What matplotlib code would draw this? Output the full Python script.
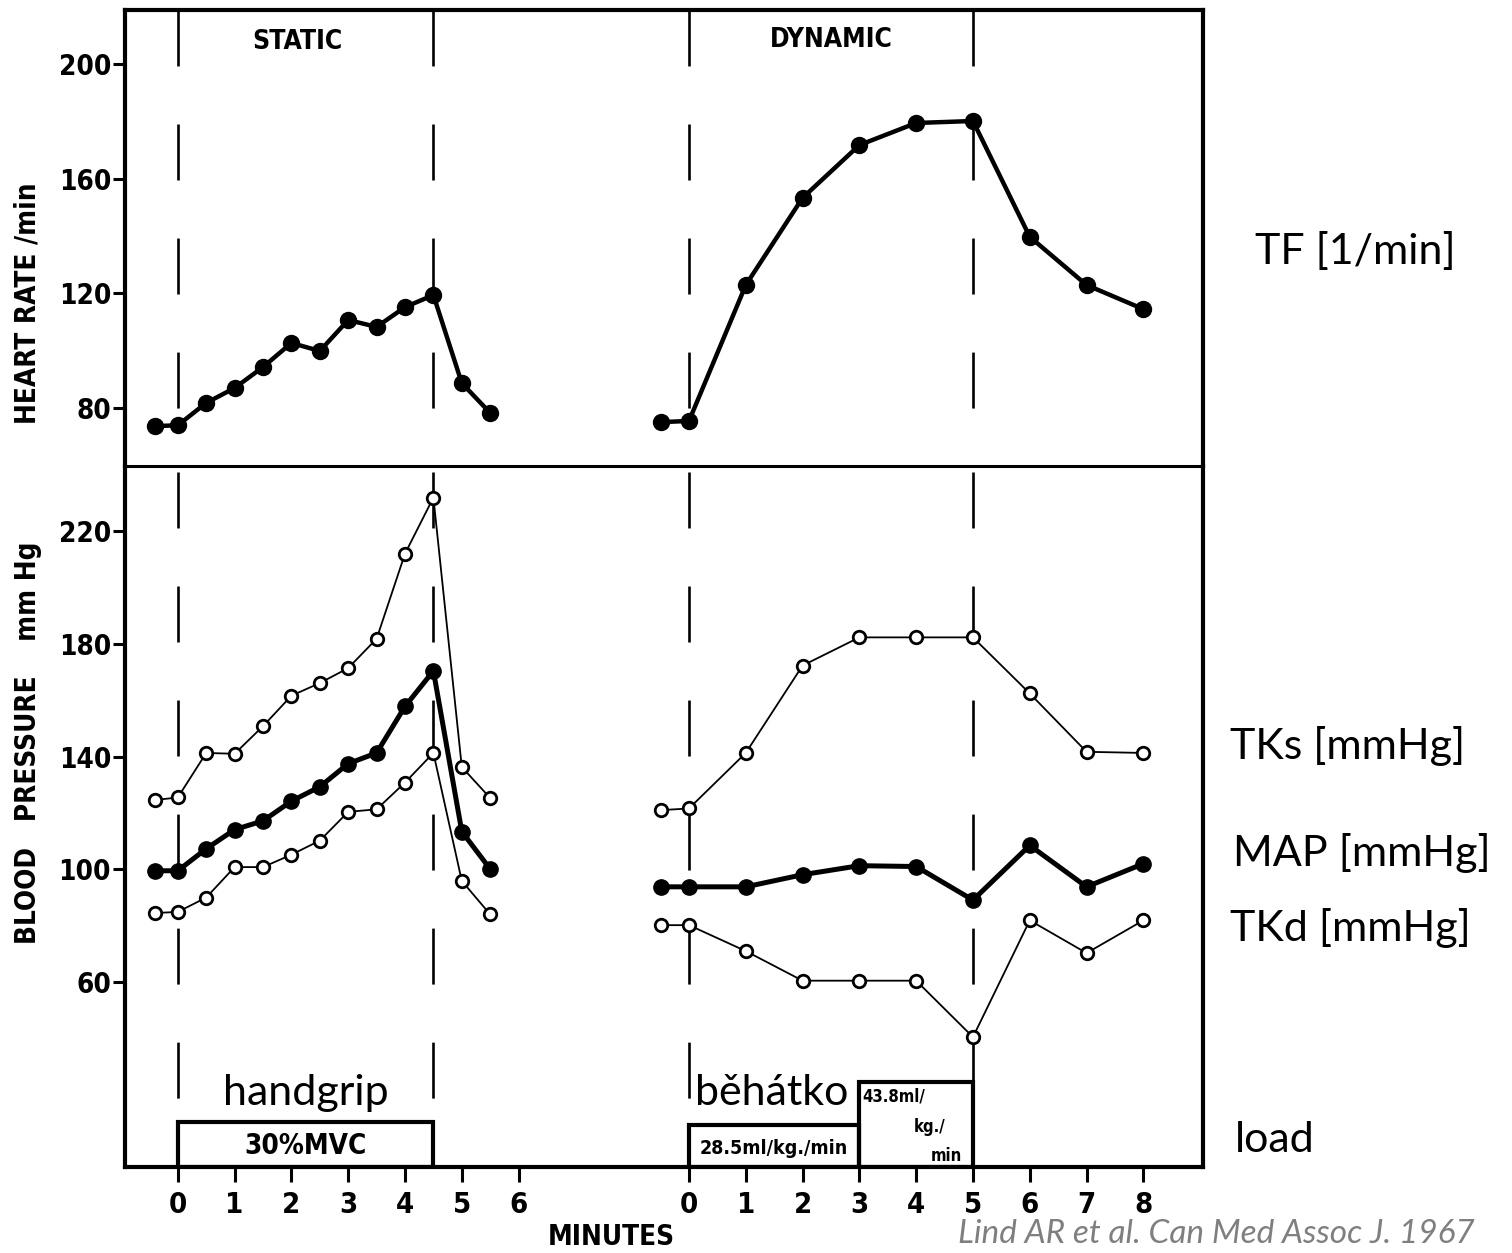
import matplotlib
matplotlib.use("Agg")
import matplotlib.pyplot as plt
from matplotlib import font_manager

plt.rcParams['lines.scale_dashes'] = False

# minutes; the dynamic run is drawn 9 min to the right of the static one
DYN_SHIFT = 9

# static (handgrip) test
static_t = [-0.4, 0, 0.5, 1, 1.5, 2, 2.5, 3, 3.5, 4, 4.5, 5, 5.5]
static_hr = [73.7, 74.0, 81.8, 87.0, 94.3, 102.7, 99.9, 110.7, 108.3, 115.2, 119.4, 88.7, 78.3]
static_sys = [124.6, 125.5, 141.3, 141.0, 150.8, 161.6, 166.1, 171.4, 181.8, 212.0, 231.9, 136.3, 125.3]
static_map = [99.5, 99.5, 107.3, 114.1, 117.2, 124.2, 129.3, 137.5, 141.3, 157.8, 170.4, 113.4, 100.1]
static_dia = [84.5, 84.9, 90.0, 100.8, 100.8, 105.2, 110.2, 120.4, 121.3, 130.8, 141.3, 95.9, 84.0]

# dynamic (treadmill) test
dyn_t = [-0.5, 0, 1, 2, 3, 4, 5, 6, 7, 8]
dyn_hr = [75.1, 75.5, 122.9, 153.3, 171.7, 179.4, 180.1, 139.7, 122.9, 114.5]
dyn_sys = [121.0, 121.6, 141.3, 172.3, 182.3, 182.3, 182.3, 162.4, 141.7, 141.3]
dyn_map = [93.8, 93.8, 93.8, 98.1, 101.3, 101.0, 89.1, 108.5, 93.8, 102.0]
dyn_dia = [80.2, 80.2, 71.0, 60.5, 60.5, 60.5, 40.5, 81.9, 70.3, 81.9]

# start / end of exercise (dashed verticals)
phase_marks = [0, 4.5, 0 + DYN_SHIFT, 5 + DYN_SHIFT]

# load boxes
load_start = [0, 0 + DYN_SHIFT, 3 + DYN_SHIFT]
load_end = [4.5, 3 + DYN_SHIFT, 5 + DYN_SHIFT]
load_top = [10.4, 9.3, 24.5]

hr_ticks = [80, 120, 160, 200]
bp_ticks = [60, 100, 140, 180, 220]
static_ticks = [0, 1, 2, 3, 4, 5, 6]
dyn_ticks = [0, 1, 2, 3, 4, 5, 6, 7, 8]

names = {f.name for f in font_manager.fontManager.ttflist}
if "Liberation Sans Narrow" in names:
    HEAVY = dict(family="Liberation Sans Narrow", weight="bold")
else:
    HEAVY = dict(family="DejaVu Sans", weight="bold", stretch="condensed")
SLIDE = "Lato" if "Lato" in names else "DejaVu Sans"

W, H = 1512, 1253
fig = plt.figure(figsize=(W / 100, H / 100), dpi=100)
L, R = 125 / W, 1203 / W
ax_hr = fig.add_axes([L, 1 - 466 / H, R - L, (466 - 10) / H])
ax_bp = fig.add_axes([L, 1 - 1167 / H, R - L, (1167 - 466) / H])

xlim = (-0.93, 18.05)
hr_lim = (59.8, 218.8)
bp_lim = (-5.6, 243.1)

for ax in (ax_hr, ax_bp):
    ax.set_xlim(*xlim)
    for s in ax.spines.values():
        s.set_linewidth(3)
ax_hr.set_ylim(*hr_lim)
ax_bp.set_ylim(*bp_lim)
ax_hr.spines['bottom'].set_visible(False)
ax_bp.spines['top'].set_linewidth(2.2)

# heart rate
ax_hr.plot(static_t, static_hr, color='k', lw=3.2, marker='o', ms=11.5, zorder=3)
ax_hr.plot([t + DYN_SHIFT for t in dyn_t], dyn_hr, color='k', lw=3.2, marker='o', ms=11.5, zorder=3)

# blood pressure
open_kw = dict(color='k', lw=1.3, marker='o', ms=9, mfc='white', mec='k', mew=2.0, zorder=3)
fill_kw = dict(color='k', lw=3.6, marker='o', ms=11, zorder=4)
for t, sys_, map_, dia in [(static_t, static_sys, static_map, static_dia),
                           ([t + DYN_SHIFT for t in dyn_t], dyn_sys, dyn_map, dyn_dia)]:
    ax_bp.plot(t, sys_, **open_kw)
    ax_bp.plot(t, dia, **open_kw)
    ax_bp.plot(t, map_, **fill_kw)

# dashed phase lines
dash = (40.3, 41.8)
for xm in phase_marks:
    ax_hr.plot([xm, xm], [hr_lim[1], hr_lim[0]], color='k', lw=1.9, dashes=dash, zorder=1)
    stop = max(top for s, e, top in zip(load_start, load_end, load_top) if s <= xm <= e)
    ax_bp.plot([xm, xm], [bp_lim[1] - 2, stop], color='k', lw=1.9, dashes=dash, zorder=1)

# load boxes
for s, e, top in zip(load_start, load_end, load_top):
    ax_bp.bar(s, top - bp_lim[0], width=e - s, bottom=bp_lim[0], align='edge',
              fill=False, edgecolor='k', lw=3, zorder=2)

ax_bp.text(2.25, 1.8, "30%MVC", ha='center', va='center', fontsize=20, **HEAVY)
ax_bp.text(10.5, 0.8, "28.5ml/kg./min", ha='center', va='center', fontsize=14, **HEAVY)
ax_bp.text(12.06, 19.4, "43.8ml/", ha='left', va='center', fontsize=12, **HEAVY)
ax_bp.text(12.95, 8.6, "kg./", ha='left', va='center', fontsize=12, **HEAVY)
ax_bp.text(13.25, -1.6, "min", ha='left', va='center', fontsize=12, **HEAVY)

ax_bp.text(2.25, 20.6, "handgrip", ha='center', va='center', fontsize=31, family=SLIDE)
ax_bp.text(9.1, 20.6, "běhátko", ha='left', va='center', fontsize=31, family=SLIDE)

ax_hr.text(2.11, 207.7, "STATIC", ha='center', va='center', fontsize=19, **HEAVY)
ax_hr.text(11.51, 208.4, "DYNAMIC", ha='center', va='center', fontsize=19, **HEAVY)

# ticks
ax_hr.set_xticks([])
ax_hr.set_yticks(hr_ticks)
ax_hr.set_yticklabels([str(v) for v in hr_ticks], fontsize=20, **HEAVY)
ax_bp.set_yticks(bp_ticks)
ax_bp.set_yticklabels([str(v) for v in bp_ticks], fontsize=20, **HEAVY)
ax_bp.set_xticks(static_ticks + [t + DYN_SHIFT for t in dyn_ticks])
ax_bp.set_xticklabels([str(t) for t in static_ticks] + [str(t) for t in dyn_ticks],
                      fontsize=21, **HEAVY)
for ax in (ax_hr, ax_bp):
    ax.tick_params(axis='y', direction='out', length=9, width=2.2, pad=1)
ax_bp.tick_params(axis='x', direction='out', length=11, width=2.2, pad=6)

fig.text(28 / W, 1 - 303 / H, "HEART RATE /min", rotation=90, ha='center', va='center',
         fontsize=20, **HEAVY)
fig.text(28 / W, 1 - 743 / H, "BLOOD   PRESSURE    mm Hg", rotation=90, ha='center',
         va='center', fontsize=20, **HEAVY)
fig.text(611 / W, 1 - 1237 / H, "MINUTES", ha='center', va='center', fontsize=20, **HEAVY)

# slide annotations
for txt, x, y in [("TF [1/min]", 1255, 252), ("TKs [mmHg]", 1230, 746),
                  ("MAP [mmHg]", 1233, 853), ("TKd [mmHg]", 1230, 928),
                  ("load", 1235, 1140)]:
    fig.text(x / W, 1 - y / H, txt, ha='left', va='center', fontsize=31, family=SLIDE)
fig.text(958 / W, 4 / H, "Lind AR et al. Can Med Assoc J. 1967", ha='left',
         va='bottom', fontsize=24, style='italic', color='#7f7f7f', family=SLIDE)

fig.savefig("out.png", dpi=100)
